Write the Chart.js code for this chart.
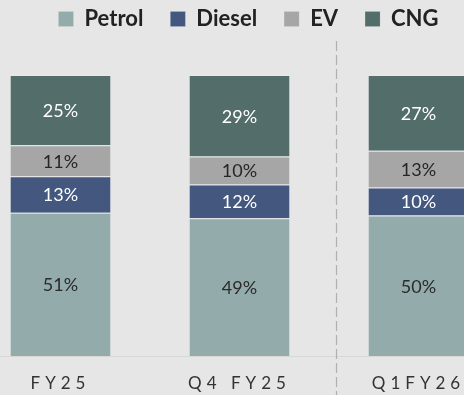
<!DOCTYPE html>
<html>
<head>
<meta charset="utf-8">
<script src="https://cdn.jsdelivr.net/npm/chart.js@4.4.1/dist/chart.umd.min.js"></script>
<style>
    html, body { margin: 0; padding: 0; background: #e6e6e6; overflow: hidden; }
    body { width: 464px; height: 395px; position: relative; }
    #wrap { position: absolute; left: -29px; top: 0; width: 555px; height: 395px; }
</style>
</head>
<body>
<div id="wrap"><canvas id="mix-chart"></canvas></div>
<script>
const periods = ['FY25', 'Q4 FY25', 'Q1FY26'];
const petrol = [51, 49, 50];
const diesel = [13, 12, 10];
const ev = [11, 10, 13];
const cng = [25, 29, 27];

const fontFamily = "Lato, 'Open Sans', sans-serif";

// value labels in the middle of each segment
const segmentLabels = {
    id: 'segmentLabels',
    afterDatasetsDraw(chart) {
        const ctx = chart.ctx;
        ctx.save();
        ctx.font = '18px ' + fontFamily;
        ctx.textAlign = 'center';
        ctx.textBaseline = 'middle';
        chart.data.datasets.forEach((ds, i) => {
            chart.getDatasetMeta(i).data.forEach((bar, j) => {
                const c = bar.getCenterPoint();
                ctx.fillStyle = ds.labelColor;
                ctx.fillText(ds.data[j] + '%', c.x, c.y + 1);
            });
        });
        ctx.restore();
    }
};

// dashed divider before the new fiscal year
const divider = {
    id: 'divider',
    afterDraw(chart) {
        const ctx = chart.ctx;
        const x = Math.round(chart.scales.x.getPixelForValue(1.54)) + 0.5;
        ctx.save();
        ctx.strokeStyle = '#b0b0b0';
        ctx.lineWidth = 1.2;
        ctx.setLineDash([10, 4]);
        ctx.beginPath();
        ctx.moveTo(x, 41);
        ctx.lineTo(x, chart.height);
        ctx.stroke();
        ctx.restore();
    }
};

// extra room under the legend, and spaced-out axis labels
const tweaks = {
    id: 'tweaks',
    beforeInit(chart) {
        const fit = chart.legend.fit;
        chart.legend.fit = function () {
            fit.bind(chart.legend)();
            this.height += 35;
        };
    },
    beforeLayout(chart) {
        const xs = chart.scales.x;
        if (xs && !xs._spaced) {
            const draw = xs.draw;
            xs.draw = function (area) {
                chart.ctx.save();
                chart.ctx.letterSpacing = '5px';
                draw.call(this, area);
                chart.ctx.restore();
            };
            xs._spaced = true;
        }
    }
};

function segment(label, data, color, labelColor) {
    return {
        label: label,
        data: data,
        backgroundColor: color,
        borderColor: 'rgba(235,235,240,0.55)',
        borderWidth: { top: 1 },
        borderSkipped: false,
        labelColor: labelColor,
        barPercentage: 0.559,
        categoryPercentage: 1
    };
}

new Chart(document.getElementById('mix-chart'), {
    type: 'bar',
    data: {
        labels: periods,
        datasets: [
            segment('Petrol', petrol, '#94abab', '#2b2b2b'),
            segment('Diesel', diesel, '#43577f', '#ffffff'),
            segment('EV', ev, '#a6a6a6', '#262626'),
            segment('CNG', cng, '#536d6b', '#ffffff')
        ]
    },
    options: {
        responsive: true,
        maintainAspectRatio: false,
        animation: false,
        layout: { padding: { top: -19 } },
        plugins: {
            legend: {
                position: 'top',
                labels: {
                    boxWidth: 15,
                    boxHeight: 15,
                    padding: 27,
                    color: '#222222',
                    font: { family: fontFamily, size: 22, weight: 'bold' }
                }
            },
            tooltip: { enabled: false }
        },
        scales: {
            x: {
                stacked: true,
                grid: { display: false, drawTicks: false },
                border: { display: true, color: '#d8d8d8', width: 1 },
                ticks: {
                    padding: 17,
                    color: '#333333',
                    font: { family: fontFamily, size: 17 }
                },
                afterFit(scale) { scale.height = 39; }
            },
            y: {
                stacked: true,
                position: 'right',
                min: 0,
                max: 100,
                grid: { display: false },
                border: { display: false },
                ticks: { display: false },
                afterFit(scale) { scale.width = 18; }
            }
        }
    },
    plugins: [segmentLabels, divider, tweaks]
});
</script>
</body>
</html>
